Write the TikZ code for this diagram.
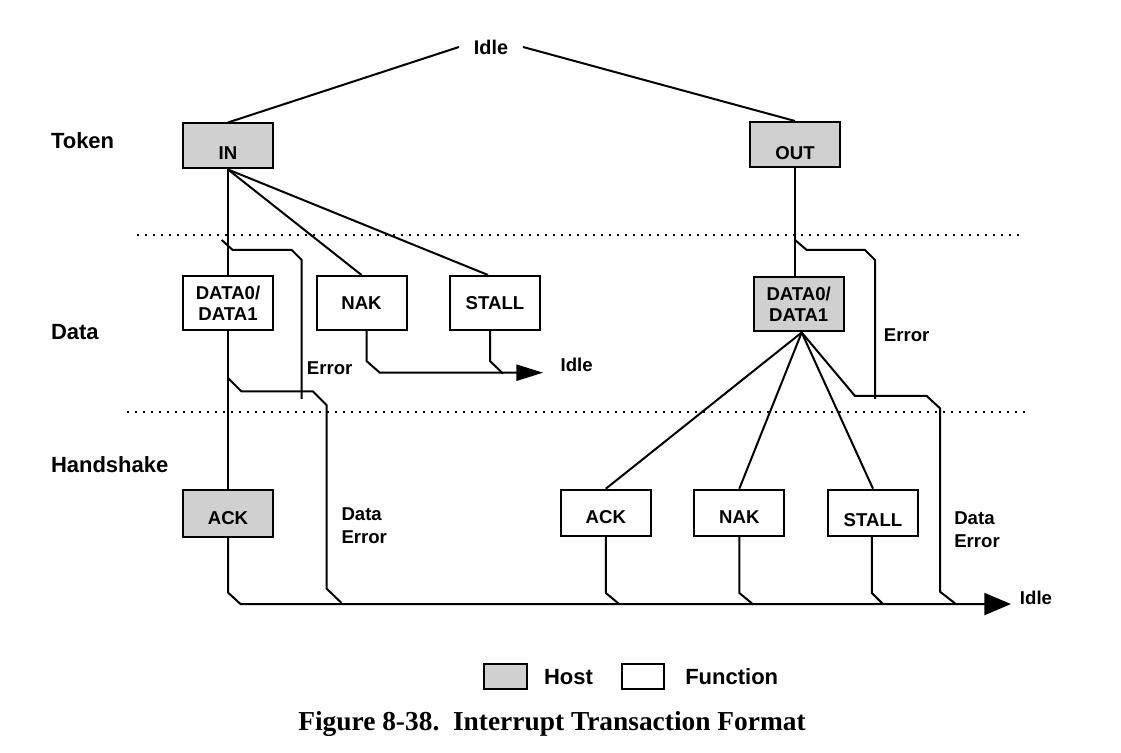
\documentclass[tikz,border=0pt]{standalone}
\usepackage{fontspec}
\setmainfont{Liberation Sans}
\newfontfamily\captionfont{Liberation Serif}
\usetikzlibrary{arrows.meta}
\definecolor{hostgray}{RGB}{208,208,208}

\begin{document}
\begin{tikzpicture}[x=0.5pt, y=-0.5pt, line width=1pt,
    box/.style={draw, line width=1pt, inner sep=0pt, minimum width=\boxWidth, align=center, font=\fontsize{9.3}{10.5}\selectfont\bfseries},
    hostbox/.style={box, fill=hostgray},
    funcbox/.style={box, fill=white},
    lowtext/.style={text height=#1, text depth=0pt},
    lbl/.style={inner sep=0pt, align=left, font=\fontsize{9.3}{11.5}\selectfont\bfseries},
    rowlbl/.style={inner sep=0pt, anchor=west, font=\fontsize{11}{13}\selectfont\bfseries},
    sep/.style={line width=0.6pt, dash pattern=on 1pt off 3pt},
    smallhead/.style={-{Triangle[length=13.3pt, width=8pt]}},
    bighead/.style={-{Triangle[length=13.3pt, width=11pt]}}]

    % variables
    \def\boxWidth{45pt}
    \def\tokenHeight{22.5pt}
    \def\dataHeight{27pt}
    \def\handHeight{23.25pt}

    \useasboundingbox (0,0) rectangle (1121,753);

    % Idle at the top
    \node[lbl, inner xsep=7pt, font=\fontsize{9.9}{12}\selectfont\bfseries] (idletop) at (491,47) {Idle};

    % Phases
        % labels
        \node[rowlbl] (token) at (50,141) {Token};
        \node[rowlbl] (data) at (50,332) {Data};
        \node[rowlbl] (handshake) at (50,465) {Handshake};

        % separators
        \draw[sep] (137,235) -- (1020,235);
        \draw[sep] (127,412) -- (1025,412);

    % IN transaction
        % boxes
        \node[hostbox, minimum height=\tokenHeight, lowtext=14pt] (in) at (228,146) {IN};
        \node[funcbox, minimum height=\dataHeight] (datain) at (228,303.5) {DATA0/\\DATA1};
        \node[funcbox, minimum height=\dataHeight] (nakin) at (361.5,303) {NAK};
        \node[funcbox, minimum height=\dataHeight] (stallin) at (495,303) {STALL};
        \node[hostbox, minimum height=\handHeight, lowtext=11.4pt] (ackin) at (228,513.3) {ACK};

        % labels
        \node[lbl] (errin) at (329.7,368) {Error};
        \node[lbl, anchor=west] (dataerrin) at (340.5,526) {Data\\Error};
        \node[lbl, inner xsep=8.3pt] (idlemid) at (576.7,365) {Idle};

        % branches
        \draw (idletop.west) -- (in.north);
        \draw (in.south) -- (datain.north);
        \draw (in.south) -- (nakin.north);
        \draw (in.south) -- ([xshift=-3.5pt]stallin.north);
        \draw (datain.south) -- (ackin.north);

        % error after the token
        \coordinate (errInStart) at (221.7,240);
        \draw (errInStart) -- ++(11,10) -- ++(59,0) -- ++(10,10) -- ++(0,139);

        % data error
        \coordinate (dataInTap) at (228,378);
        \draw (dataInTap) -- ++(13.5,13.5) -- ++(71.5,0) -- ++(13.5,13.5) -- ++(0,183.5) -- ++(15,14.5);

        % NAK and STALL back to idle
        \draw[smallhead] ([xshift=2.5pt]nakin.south) -- ++(0,30) -- ++(13.3,11.7) coordinate (nakInEnd) -- (nakInEnd -| idlemid.west);
        \draw ([xshift=-2.5pt]stallin.south) -- ++(0,30) -- ++(13,12.7);

    % OUT transaction
        % boxes
        \node[hostbox, minimum height=\tokenHeight, lowtext=14.9pt] (out) at (795,144.5) {OUT};
        \node[hostbox, minimum height=\dataHeight] (dataout) at (798.7,304.5) {DATA0/\\DATA1};
        \node[funcbox, minimum height=\handHeight, lowtext=10.7pt] (ackout) at (605.8,513) {ACK};
        \node[funcbox, minimum height=\handHeight, lowtext=10.7pt] (nakout) at (739.3,513) {NAK};
        \node[funcbox, minimum height=\handHeight, lowtext=13.7pt] (stallout) at (873,513) {STALL};

        % labels
        \node[lbl] (errout) at (906.7,335) {Error};
        \node[lbl, anchor=west] (dataerrout) at (953.3,529.5) {Data\\Error};
        \node[lbl, inner xsep=4pt] (idlebot) at (1036,598.3) {Idle};

        % branches
        \draw (idletop.east) -- (out.north);
        \draw (out.south) -- (out.south |- dataout.north);
        \coordinate (dataOutTip) at ([xshift=1.5pt]dataout.south);
        \draw (dataOutTip) -- (ackout.north);
        \draw (dataOutTip) -- (nakout.north);
        \draw (dataOutTip) -- (stallout.north);

        % error after the token
        \coordinate (errOutStart) at (795,240);
        \draw (errOutStart) -- ++(11.7,10) -- ++(58.3,0) -- ++(10,10) -- ++(0,139);

        % data error
        \coordinate (dataOutBus) at (855,396);
        \draw (dataOutTip) -- (dataOutBus) -- ++(71.7,0) -- ++(13.3,12.3) -- ++(0,183.4) -- ++(15,11.6);

    % Handshakes back to idle
    \draw[bighead] (ackin.south) -- ++(0,55) -- ++(12.5,11.5) coordinate (busStart) -- (busStart -| idlebot.west);
    \draw (ackout.south) -- ++(0,55.7) -- ++(14,11.6);
    \draw (nakout.south) -- ++(0,55.7) -- ++(14,11.6);
    \draw ([xshift=-0.6pt]stallout.south) -- ++(0,55.7) -- ++(11.6,11.6);

    % Legend
    \node[hostbox, minimum width=21.5pt, minimum height=12.8pt] (keyhost) at (505,676.5) {};
    \node[rowlbl] (keyhosttext) at (543,677) {Host};
    \node[funcbox, minimum width=21pt, minimum height=12.8pt] (keyfunc) at (643,676.5) {};
    \node[rowlbl] (keyfunctext) at (684.3,677) {Function};

    % Caption
    \node[inner sep=0pt, font=\captionfont\bfseries\fontsize{13.7}{16}\selectfont] (caption) at (552,724) {Figure 8-38.\ \ Interrupt Transaction Format};
\end{tikzpicture}
\end{document}
